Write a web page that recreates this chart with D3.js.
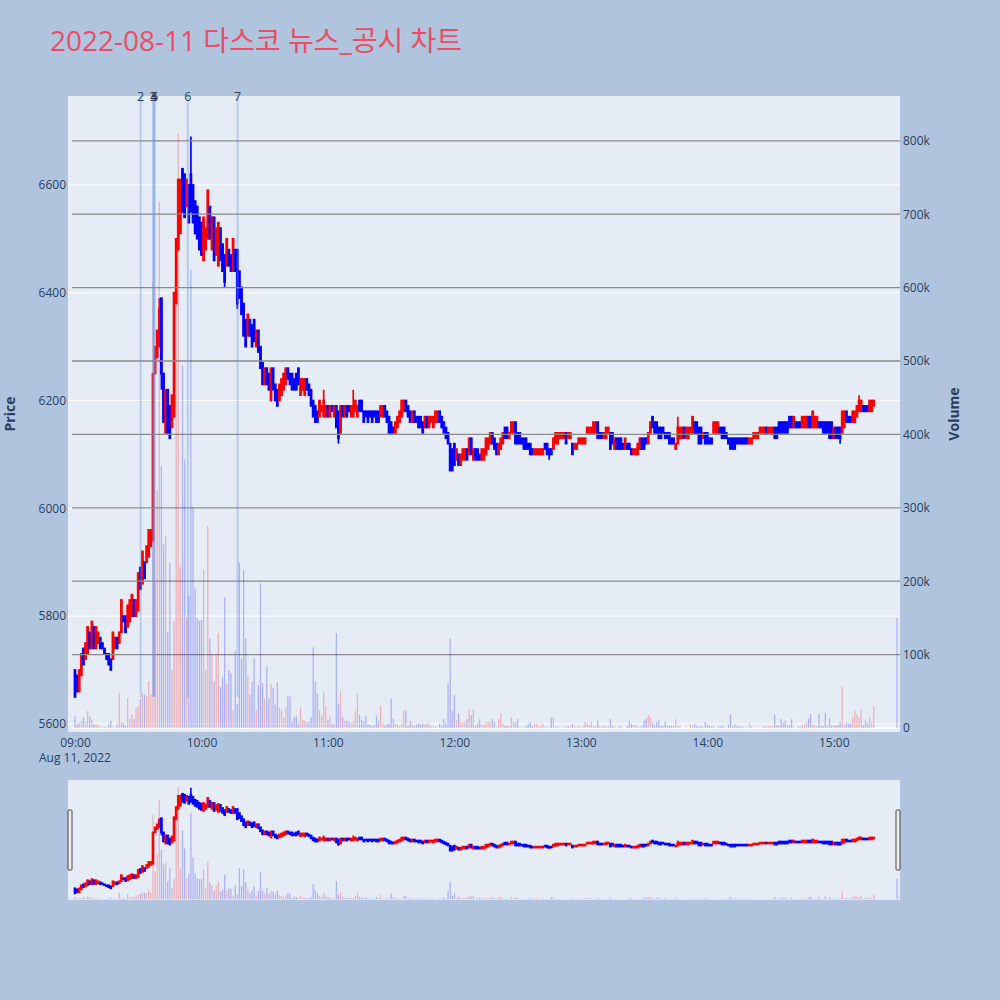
<!DOCTYPE html>
<html>
<head>
<meta charset="utf-8">
<script src="https://cdn.jsdelivr.net/npm/d3@7"></script>
<style>
  body { margin: 0; background: #b0c4de; }
  svg text { font-family: "Open Sans", "Noto Sans CJK KR", sans-serif; }
</style>
</head>
<body>
<svg id="chart" width="1000" height="1000"></svg>
<script>
// one candle per minute from 09:00
const sessionStart = new Date(2022, 7, 11, 9, 0);

const opens = [
  5700, 5690, 5660, 5690, 5740, 5720, 5730, 5770, 5740, 5780,
  5740, 5750, 5760, 5750, 5740, 5730, 5730, 5720, 5720, 5740,
  5760, 5750, 5770, 5800, 5800, 5780, 5790, 5800, 5830, 5800,
  5810, 5890, 5860, 5900, 5900, 5910, 5930, 5940, 6250, 6280,
  6300, 6390, 6250, 6140, 6220, 6190, 6150, 6170, 6380, 6480,
  6510, 6630, 6620, 6560, 6600, 6620, 6600, 6570, 6560, 6540,
  6530, 6460, 6480, 6500, 6560, 6480, 6540, 6470, 6450, 6520,
  6490, 6470, 6450, 6480, 6470, 6440, 6480, 6480, 6440, 6410,
  6380, 6350, 6320, 6350, 6340, 6350, 6300, 6330, 6300, 6270,
  6230, 6260, 6250, 6200, 6260, 6230, 6220, 6200, 6210, 6220,
  6230, 6260, 6250, 6250, 6240, 6250, 6260, 6210, 6220, 6210,
  6240, 6230, 6220, 6200, 6190, 6180, 6170, 6180, 6170, 6170,
  6190, 6170, 6190, 6170, 6190, 6180, 6140, 6190, 6170, 6190,
  6190, 6170, 6170, 6180, 6170, 6200, 6200, 6180, 6180, 6180,
  6180, 6180, 6180, 6180, 6180, 6170, 6170, 6190, 6180, 6170,
  6160, 6150, 6140, 6150, 6160, 6170, 6180, 6200, 6190, 6180,
  6160, 6180, 6170, 6170, 6170, 6160, 6150, 6170, 6150, 6160,
  6150, 6160, 6160, 6180, 6170, 6160, 6150, 6140, 6120, 6110,
  6120, 6090, 6100, 6080, 6090, 6090, 6110, 6100, 6130, 6090,
  6110, 6110, 6100, 6090, 6090, 6100, 6110, 6120, 6140, 6130,
  6120, 6100, 6110, 6120, 6150, 6150, 6130, 6140, 6140, 6160,
  6140, 6140, 6130, 6130, 6130, 6120, 6120, 6110, 6100, 6100,
  6100, 6100, 6100, 6120, 6120, 6110, 6110, 6110, 6120, 6120,
  6130, 6130, 6130, 6140, 6130, 6130, 6120, 6110, 6110, 6120,
  6120, 6120, 6120, 6140, 6140, 6140, 6140, 6140, 6160, 6140,
  6140, 6130, 6130, 6140, 6140, 6140, 6110, 6130, 6130, 6130,
  6120, 6110, 6120, 6120, 6110, 6100, 6100, 6100, 6110, 6130,
  6130, 6130, 6120, 6140, 6170, 6160, 6160, 6150, 6150, 6150,
  6140, 6140, 6140, 6130, 6130, 6110, 6120, 6130, 6130, 6150,
  6130, 6130, 6140, 6140, 6160, 6160, 6150, 6150, 6130, 6140,
  6140, 6130, 6130, 6140, 6140, 6140, 6150, 6150, 6150, 6140,
  6130, 6130, 6130, 6130, 6130, 6130, 6130, 6130, 6130, 6130,
  6120, 6120, 6130, 6130, 6130, 6140, 6140, 6140, 6150, 6140,
  6140, 6140, 6150, 6150, 6160, 6160, 6160, 6160, 6160, 6170,
  6170, 6150, 6160, 6160, 6160, 6150, 6150, 6150, 6170, 6170,
  6150, 6150, 6150, 6160, 6160, 6160, 6160, 6160, 6160, 6160,
  6130, 6150, 6150, 6150, 6140, 6150, 6180, 6170, 6170, 6160,
  6160, 6170, 6180, 6180, 6190, 6190, 6190, 6180, 6180, 6190
];

const closes = [
  5650, 5660, 5700, 5730, 5710, 5750, 5780, 5740, 5790, 5740,
  5780, 5770, 5740, 5740, 5730, 5720, 5710, 5700, 5770, 5760,
  5740, 5770, 5830, 5790, 5770, 5820, 5830, 5840, 5800, 5830,
  5880, 5850, 5920, 5870, 5930, 5960, 5960, 6250, 6300, 6330,
  6370, 6250, 6160, 6220, 6140, 6130, 6210, 6400, 6500, 6610,
  6610, 6550, 6540, 6610, 6530, 6550, 6530, 6510, 6500, 6480,
  6470, 6540, 6520, 6590, 6500, 6540, 6460, 6520, 6530, 6460,
  6440, 6420, 6500, 6450, 6440, 6500, 6440, 6380, 6390, 6360,
  6320, 6300, 6360, 6320, 6300, 6310, 6330, 6290, 6260, 6230,
  6260, 6230, 6220, 6260, 6220, 6200, 6190, 6230, 6240, 6250,
  6260, 6240, 6230, 6220, 6220, 6220, 6230, 6240, 6240, 6240,
  6220, 6210, 6190, 6170, 6160, 6160, 6200, 6190, 6200, 6190,
  6170, 6190, 6180, 6190, 6150, 6130, 6190, 6170, 6190, 6170,
  6180, 6190, 6190, 6200, 6190, 6180, 6180, 6160, 6170, 6160,
  6170, 6160, 6170, 6160, 6160, 6190, 6190, 6170, 6160, 6140,
  6140, 6140, 6160, 6170, 6180, 6200, 6200, 6180, 6170, 6160,
  6180, 6160, 6160, 6150, 6150, 6140, 6170, 6150, 6170, 6170,
  6170, 6180, 6180, 6160, 6150, 6140, 6130, 6120, 6070, 6070,
  6080, 6110, 6080, 6100, 6110, 6110, 6090, 6130, 6100, 6110,
  6090, 6090, 6090, 6110, 6110, 6130, 6130, 6140, 6120, 6110,
  6100, 6120, 6130, 6140, 6130, 6130, 6140, 6160, 6160, 6120,
  6120, 6120, 6120, 6110, 6110, 6110, 6100, 6100, 6110, 6110,
  6110, 6110, 6110, 6110, 6100, 6100, 6100, 6130, 6140, 6140,
  6140, 6140, 6140, 6120, 6140, 6140, 6100, 6120, 6120, 6130,
  6130, 6130, 6130, 6150, 6150, 6150, 6160, 6160, 6130, 6130,
  6130, 6140, 6150, 6150, 6110, 6120, 6130, 6110, 6110, 6110,
  6110, 6130, 6110, 6110, 6100, 6110, 6110, 6120, 6130, 6110,
  6110, 6120, 6140, 6160, 6150, 6140, 6140, 6130, 6130, 6140,
  6130, 6130, 6120, 6120, 6120, 6120, 6150, 6150, 6150, 6130,
  6150, 6150, 6150, 6170, 6140, 6140, 6120, 6120, 6140, 6120,
  6120, 6120, 6120, 6160, 6160, 6160, 6140, 6130, 6130, 6130,
  6120, 6110, 6110, 6110, 6120, 6120, 6120, 6120, 6120, 6120,
  6130, 6130, 6140, 6140, 6140, 6150, 6150, 6150, 6140, 6150,
  6150, 6150, 6130, 6130, 6140, 6140, 6140, 6140, 6140, 6150,
  6150, 6170, 6150, 6150, 6150, 6170, 6170, 6170, 6150, 6150,
  6180, 6170, 6170, 6150, 6150, 6140, 6140, 6140, 6130, 6130,
  6150, 6130, 6130, 6130, 6180, 6180, 6160, 6160, 6160, 6180,
  6180, 6190, 6200, 6200, 6180, 6180, 6180, 6200, 6200, 6200
];

// shares traded per minute, in thousands
const volumeThousands = [
  16, 5, 7, 9, 15, 9, 23, 16, 12, 5,
  5, 5, 1, 1, 1, 1, 5, 10, 1, 1,
  5, 48, 7, 7, 3, 41, 12, 19, 12, 28,
  30, 39, 48, 46, 44, 64, 46, 608, 200, 324,
  717, 357, 250, 262, 130, 225, 80, 146, 600, 810,
  220, 494, 366, 150, 180, 624, 301, 190, 150, 146,
  147, 215, 80, 275, 122, 100, 63, 100, 129, 56,
  70, 178, 60, 79, 75, 24, 105, 33, 225, 95,
  215, 122, 72, 45, 63, 95, 24, 58, 197, 61,
  40, 83, 40, 60, 55, 32, 62, 28, 24, 15,
  28, 43, 43, 8, 15, 17, 7, 28, 11, 10,
  8, 8, 15, 110, 64, 47, 24, 17, 50, 30,
  11, 16, 6, 6, 129, 33, 50, 15, 10, 10,
  9, 7, 9, 23, 47, 18, 11, 9, 16, 5,
  5, 3, 4, 17, 9, 30, 7, 3, 6, 6,
  40, 13, 6, 6, 3, 6, 24, 24, 3, 9,
  7, 3, 5, 6, 5, 6, 5, 6, 6, 3,
  3, 2, 1, 6, 3, 12, 6, 61, 122, 23,
  45, 11, 20, 8, 8, 8, 12, 25, 17, 25,
  3, 6, 12, 5, 5, 8, 9, 9, 12, 8,
  1, 12, 20, 6, 3, 3, 3, 15, 8, 8,
  12, 1, 1, 1, 3, 6, 8, 3, 6, 6,
  3, 3, 6, 1, 1, 1, 14, 15, 2, 2,
  1, 1, 1, 2, 3, 2, 6, 2, 1, 3,
  1, 3, 8, 7, 4, 8, 3, 3, 10, 2,
  2, 3, 2, 2, 12, 3, 2, 0, 2, 2,
  0, 0, 3, 10, 6, 4, 3, 2, 1, 3,
  10, 13, 18, 15, 8, 4, 8, 11, 3, 3,
  9, 3, 3, 3, 3, 12, 3, 3, 0, 0,
  1, 0, 5, 3, 5, 3, 2, 3, 2, 8,
  4, 3, 2, 3, 0, 2, 3, 3, 2, 0,
  5, 18, 2, 5, 3, 3, 2, 2, 1, 1,
  7, 3, 0, 1, 1, 0, 1, 3, 2, 3,
  3, 3, 18, 4, 3, 12, 7, 10, 3, 4,
  12, 2, 0, 2, 2, 5, 5, 7, 13, 19,
  5, 4, 3, 19, 3, 3, 21, 3, 13, 4,
  4, 4, 4, 8, 56, 5, 7, 6, 6, 15,
  24, 19, 15, 26, 4, 10, 7, 15, 8, 30
];

// [minute index, high, low] where the shadow goes past the body
const wicks = [
  [40, 6390, 6300], [41, 6390, 6220], [55, 6690, 6550], [71, 6470, 6410],
  [77, 6480, 6370], [118, 6220, 6170], [125, 6180, 6120], [132, 6220, 6170],
  [225, 6110, 6090], [286, 6170, 6120], [363, 6150, 6120], [372, 6210, 6180]
];

// closing single-price auction
const closingAuction = {time: new Date(2022, 7, 11, 15, 30), open: 6200, close: 6200, volume: 150000};

// news / disclosure times
const newsLabels = ['2', '3', '4', '5', '6', '7'];
const newsTimes = ['09:31:10', '09:37:05', '09:37:25', '09:37:50', '09:53:30', '10:17:10'];

const priceTicks = [5600, 5800, 6000, 6200, 6400, 6600];
const volumeTicks = [0, 100000, 200000, 300000, 400000, 500000, 600000, 700000, 800000];
const timeTickLabels = ['09:00', '10:00', '11:00', '12:00', '13:00', '14:00', '15:00'];

const title = '2022-08-11 다스코 뉴스_공시 차트';

// ---- build rows
const wickMap = new Map(wicks.map(w => [w[0], w]));
const candles = opens.map((o, i) => {
  const c = closes[i];
  const w = wickMap.get(i);
  return {
    time: d3.timeMinute.offset(sessionStart, i),
    open: o,
    close: c,
    high: w ? Math.max(w[1], o, c) : Math.max(o, c),
    low: w ? Math.min(w[2], o, c) : Math.min(o, c),
    volume: volumeThousands[i] * 1000
  };
});
candles.push({
  time: closingAuction.time,
  open: closingAuction.open,
  close: closingAuction.close,
  high: closingAuction.close,
  low: closingAuction.close,
  volume: closingAuction.volume
});

const parseClock = d3.timeParse('%Y-%m-%d %H:%M:%S');
const news = newsLabels.map((l, i) => ({label: l, time: parseClock('2022-08-11 ' + newsTimes[i])}));

const svg = d3.select('#chart');
const plot = {left: 68, right: 900, top: 96, bottom: 732};
const slider = {top: 780, bottom: 900};

const x = d3.scaleTime()
  .domain([new Date(2022, 7, 11, 8, 56, 41), new Date(2022, 7, 11, 15, 31, 25)])
  .range([plot.left, plot.right]);
const yPrice = d3.scaleLinear().domain([5585, 6765]).range([plot.bottom, plot.top]);
const yVol = d3.scaleLinear().domain([-5450, 861000]).range([plot.bottom, plot.top]);
const ySPrice = yPrice.copy().range([slider.bottom, slider.top]);
const ySVol = yVol.copy().range([slider.bottom, slider.top]);

const minutePx = x(d3.timeMinute.offset(sessionStart, 1)) - x(sessionStart);
const UP = '#ff0000';
const DOWN = '#0000ff';
const candleColor = d => d.close >= d.open ? UP : DOWN;
const volColor = d => d.close > d.open ? 'rgba(255,0,0,0.25)' : 'rgba(0,0,255,0.25)';
const axisText = '#2a3f5f';

svg.append('rect').attr('width', 1000).attr('height', 1000).attr('fill', '#b0c4de');

// title
svg.append('text')
  .attr('x', 50).attr('y', 51)
  .attr('font-size', 28)
  .attr('fill', '#ea4d64')
  .text(title);

// plot background
svg.append('rect')
  .attr('x', plot.left).attr('y', plot.top)
  .attr('width', plot.right - plot.left).attr('height', plot.bottom - plot.top)
  .attr('fill', '#e5ecf6');

// price grid
svg.append('g').selectAll('line')
  .data(priceTicks)
  .enter().append('line')
  .attr('x1', plot.left).attr('x2', plot.right)
  .attr('y1', d => yPrice(d)).attr('y2', d => yPrice(d))
  .attr('stroke', '#fff').attr('stroke-width', 1);

function drawCandles(g, ys, stroke) {
  const bodyW = minutePx * 0.5;
  const sel = g.selectAll('g.candle')
    .data(candles)
    .enter().append('g')
    .attr('class', 'candle');
  sel.append('line')
    .attr('x1', d => x(d.time)).attr('x2', d => x(d.time))
    .attr('y1', d => ys(d.high)).attr('y2', d => ys(d.low))
    .attr('stroke', candleColor).attr('stroke-width', stroke);
  sel.append('rect')
    .attr('x', d => x(d.time) - bodyW / 2)
    .attr('width', bodyW)
    .attr('y', d => ys(Math.max(d.open, d.close)))
    .attr('height', d => Math.abs(ys(d.open) - ys(d.close)))
    .attr('fill', candleColor)
    .attr('stroke', candleColor)
    .attr('stroke-width', stroke);
}

function drawVolume(g, ys) {
  const barW = minutePx * 0.6;
  g.selectAll('rect')
    .data(candles)
    .enter().append('rect')
    .attr('x', d => x(d.time) - barW / 2)
    .attr('width', barW)
    .attr('y', d => ys(d.volume))
    .attr('height', d => ys(0) - ys(d.volume))
    .attr('fill', volColor);
}

drawCandles(svg.append('g'), yPrice, 1.7);

// volume grid (overlay axis)
svg.append('g').selectAll('line')
  .data(volumeTicks)
  .enter().append('line')
  .attr('x1', plot.left + 4).attr('x2', plot.right)
  .attr('y1', d => yVol(d)).attr('y2', d => yVol(d))
  .attr('stroke', d => d === 0 ? '#fff' : '#8a8a8a')
  .attr('stroke-width', d => d === 0 ? 1.5 : 1.3);

drawVolume(svg.append('g'), yVol);

// news markers
const lowest = d3.min(candles, d => d.low);
const newsG = svg.append('g');
newsG.selectAll('line')
  .data(news)
  .enter().append('line')
  .attr('x1', d => x(d.time)).attr('x2', d => x(d.time))
  .attr('y1', plot.top).attr('y2', yPrice(lowest))
  .attr('stroke', 'rgba(100,149,237,0.38)')
  .attr('stroke-width', 2);
newsG.selectAll('text')
  .data(news)
  .enter().append('text')
  .attr('x', d => x(d.time)).attr('y', plot.top + 5)
  .attr('text-anchor', 'middle')
  .attr('font-size', 12.5)
  .attr('fill', axisText)
  .text(d => d.label);

// axes
const parseHM = d3.timeParse('%Y-%m-%d %H:%M');
const timeTicks = timeTickLabels.map(t => parseHM('2022-08-11 ' + t));

const xAxis = svg.append('g')
  .attr('transform', `translate(0, ${plot.bottom})`)
  .call(d3.axisBottom(x).tickValues(timeTicks).tickFormat(d3.timeFormat('%H:%M')).tickSize(0).tickPadding(6));
xAxis.select('.domain').remove();
xAxis.selectAll('text').attr('font-size', 12).attr('fill', axisText);

svg.append('text')
  .attr('x', x(sessionStart)).attr('y', 762)
  .attr('text-anchor', 'middle')
  .attr('font-size', 12)
  .attr('fill', axisText)
  .text('Aug 11, 2022');

const yAxis = svg.append('g')
  .attr('transform', `translate(${plot.left}, 0)`)
  .call(d3.axisLeft(yPrice).tickValues(priceTicks).tickFormat(d3.format('d')).tickSize(0).tickPadding(2));
yAxis.select('.domain').remove();
yAxis.selectAll('text').attr('font-size', 12).attr('fill', axisText);

const y2Axis = svg.append('g')
  .attr('transform', `translate(${plot.right}, 0)`)
  .call(d3.axisRight(yVol).tickValues(volumeTicks).tickFormat(d => d === 0 ? '0' : d / 1000 + 'k').tickSize(0).tickPadding(3));
y2Axis.select('.domain').remove();
y2Axis.selectAll('text').attr('font-size', 12).attr('fill', axisText);

svg.append('text')
  .attr('transform', `translate(15, ${(plot.top + plot.bottom) / 2}) rotate(-90)`)
  .attr('text-anchor', 'middle')
  .attr('font-size', 14).attr('font-weight', 'bold')
  .attr('fill', axisText)
  .text('Price');

svg.append('text')
  .attr('transform', `translate(959, ${(plot.top + plot.bottom) / 2}) rotate(-90)`)
  .attr('text-anchor', 'middle')
  .attr('font-size', 14).attr('font-weight', 'bold')
  .attr('fill', axisText)
  .text('Volume');

// range slider
svg.append('rect')
  .attr('x', plot.left).attr('y', slider.top)
  .attr('width', plot.right - plot.left).attr('height', slider.bottom - slider.top)
  .attr('fill', '#e5ecf6');
drawCandles(svg.append('g'), ySPrice, 1.6);
drawVolume(svg.append('g'), ySVol);

svg.append('g').selectAll('rect')
  .data([plot.left + 2, plot.right - 2])
  .enter().append('rect')
  .attr('x', d => d - 2).attr('y', 810)
  .attr('width', 4).attr('height', 60)
  .attr('rx', 1)
  .attr('fill', '#eee')
  .attr('stroke', '#444')
  .attr('stroke-width', 1);
</script>
</body>
</html>
